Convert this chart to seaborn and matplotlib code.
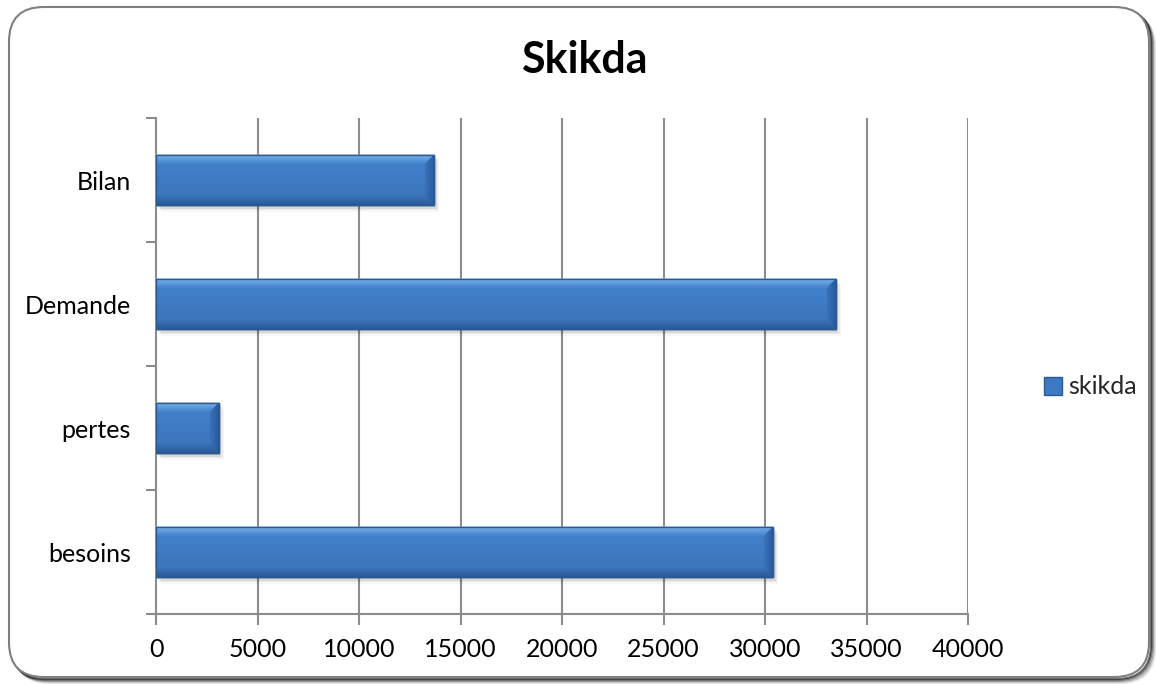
import matplotlib
matplotlib.use("Agg")
import matplotlib.pyplot as plt
from matplotlib.patches import FancyBboxPatch, Polygon, Rectangle
from matplotlib.colors import to_rgb
import numpy as np
import pandas as pd
import seaborn as sns

# Data
categories = ["Bilan", "Demande", "pertes", "besoins"]
values = [13700, 33500, 3100, 30400]
series_name = "skikda"
x_ticks = [0, 5000, 10000, 15000, 20000, 25000, 30000, 35000, 40000]

df = pd.DataFrame({"categorie": categories, "valeur": values})

sns.set_theme(style="white")
plt.rcParams["font.family"] = ["Lato", "DejaVu Sans"]

W, H = 1156, 684
fig = plt.figure(figsize=(W / 100, H / 100), dpi=100)

# Rounded outer frame with a soft shadow
for off, a in [(6, 0.08), (5, 0.15), (4, 0.25), (3, 0.40), (2, 0.55)]:
    sh = FancyBboxPatch((9 / W + off / W, 7 / H - off / H), 1140 / W, 670 / H,
                        boxstyle="round,pad=0,rounding_size=0.03",
                        transform=fig.transFigure, facecolor="none",
                        edgecolor=(0, 0, 0, a), linewidth=1.5, zorder=-2,
                        mutation_aspect=W / H)
    fig.patches.append(sh)
frame = FancyBboxPatch((9 / W, 7 / H), 1140 / W, 670 / H,
                       boxstyle="round,pad=0,rounding_size=0.03",
                       transform=fig.transFigure, facecolor="white",
                       edgecolor="#7f7f7f", linewidth=1.5, zorder=-1,
                       mutation_aspect=W / H)
fig.patches.append(frame)

ax = fig.add_axes([156 / W, 1 - 614 / H, (968 - 156) / W, (614 - 118) / H])
ax.set_zorder(2)
ax.set_facecolor("none")

bar_color = "#3d78c2"
edge_color = "#2b5a92"
sns.barplot(data=df, x="valeur", y="categorie", orient="h", color=bar_color,
            width=0.41, saturation=1, edgecolor=edge_color, linewidth=1.0,
            ax=ax, zorder=3)

ax.set_xlim(0, 40000)
ax.set_ylim(3.5, -0.5)
ax.set_xlabel("")
ax.set_ylabel("")

grid_c = "#8c8c8c"
ax.set_xticks(x_ticks)
ax.set_xticklabels([str(t) for t in x_ticks])
for t in x_ticks[1:]:
    ax.axvline(t, color=grid_c, linewidth=1.5, zorder=1)

for s in ["top", "right"]:
    ax.spines[s].set_visible(False)
for s in ["left", "bottom"]:
    ax.spines[s].set_color(grid_c)
    ax.spines[s].set_linewidth(1.5)

ax.tick_params(axis="x", which="major", length=8, width=1.5, color=grid_c,
               labelsize=18, labelcolor="black", pad=9, direction="out",
               bottom=True)
ax.set_yticks(range(len(categories)))
ax.set_yticklabels(categories)
ax.set_yticks(np.arange(-0.5, len(categories), 1), minor=True)
ax.tick_params(axis="y", which="major", length=0, labelsize=18,
               labelcolor="black", pad=18)
ax.tick_params(axis="y", which="minor", length=7, width=1.5, color=grid_c,
               direction="out", left=True)


def mix(c1, c2, t):
    a, b = np.array(to_rgb(c1)), np.array(to_rgb(c2))
    return tuple(a + (b - a) * t)


# Bevelled look: light top edge, dark bottom/right edges, soft drop shadow
fig.canvas.draw()
x0, x1 = ax.get_xlim()
bb = ax.get_window_extent()
px_x = (x1 - x0) / bb.width
px_y = 4.0 / bb.height
bev = 9
n_steps = 9
for p in list(ax.patches):
    x, w = p.get_x(), p.get_width()
    top, bot = p.get_y(), p.get_y() + p.get_height()
    # shadow
    for k, a in enumerate([0.10, 0.07, 0.05, 0.03]):
        ax.add_patch(Rectangle((x + (1 + k) * px_x * 1.2, top + (2 + k * 1.4) * px_y), w, bot - top,
                               facecolor=(0, 0, 0, a), edgecolor="none", zorder=2))
    # body gradient (slightly darker toward the bottom)
    n_body = 12
    hb = (bot - top) / n_body
    for i in range(n_body):
        t = i / (n_body - 1)
        ax.add_patch(Rectangle((x, top + i * hb), w, hb * 1.02,
                               facecolor=mix("#4282cc", "#3a72b8", t),
                               edgecolor="none", zorder=3.5))
    bx, by = bev * px_x, bev * px_y
    for i in range(n_steps):
        t0, t1 = i / n_steps, (i + 1) / n_steps
        # top bevel: bright at the edge fading into the body
        ax.add_patch(Polygon([(x, top + by * t0), (x + w - bx * t0, top + by * t0),
                              (x + w - bx * t1, top + by * t1), (x, top + by * t1)],
                             closed=True, facecolor=mix("#8cc0f4", "#4282cc", t0),
                             edgecolor="none", zorder=4))
        # bottom bevel: dark at the edge
        ax.add_patch(Polygon([(x, bot - by * t0), (x + w - bx * t0, bot - by * t0),
                              (x + w - bx * t1, bot - by * t1), (x, bot - by * t1)],
                             closed=True, facecolor=mix("#24518a", "#3a72b8", t0),
                             edgecolor="none", zorder=4))
        # right bevel
        ax.add_patch(Polygon([(x + w - bx * t0, top + by * t0), (x + w - bx * t0, bot - by * t0),
                              (x + w - bx * t1, bot - by * t1), (x + w - bx * t1, top + by * t1)],
                             closed=True, facecolor=mix("#28589a", "#3a74bc", t0),
                             edgecolor="none", zorder=4))
    ax.add_patch(Rectangle((x, top), w, bot - top, facecolor="none", edgecolor=edge_color,
                           linewidth=1.0, zorder=5))

# Title
fig.text(584 / W, 1 - 60 / H, "Skikda", ha="center", va="center",
         fontsize=31, fontweight="bold", color="black")

# Legend
handle = Rectangle((0, 0), 1, 1, facecolor=bar_color, edgecolor=edge_color, linewidth=1.0)
fig.legend([handle], [series_name], loc="center left",
           bbox_to_anchor=(1044 / W, 1 - 387 / H), frameon=False,
           fontsize=18, handlelength=0.7, handleheight=0.7, handletextpad=0.25,
           borderaxespad=0, borderpad=0)

fig.savefig("out.png", dpi=100)
